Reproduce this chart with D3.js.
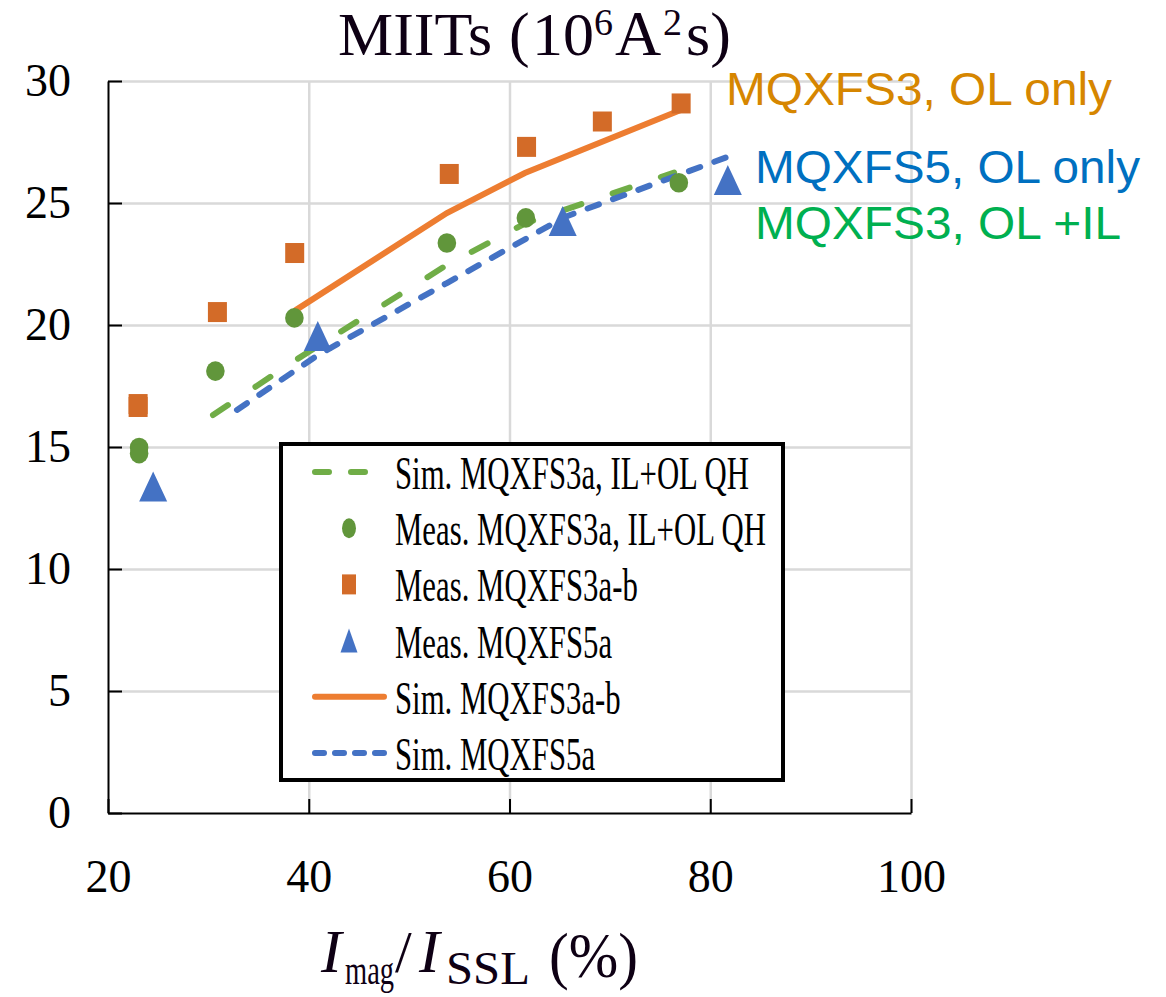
<!DOCTYPE html>
<html>
<head>
<meta charset="utf-8">
<script src="https://cdn.jsdelivr.net/npm/d3@7"></script>
<style>
  body { margin: 0; background: #fff; }
  svg { display: block; }
</style>
</head>
<body>
<div id="chart"></div>
<script>
// axis ticks
const xTicks = [20, 40, 60, 80, 100];
const yTicks = [0, 5, 10, 15, 20, 25, 30];

// Meas. MQXFS3a-b (orange squares)
const measS3abX = [23.0, 23.0, 30.9, 38.6, 54.0, 61.7, 69.25, 77.1];
const measS3abY = [16.76, 16.64, 20.53, 22.95, 26.19, 27.3, 28.34, 29.08];

// Meas. MQXFS3a, IL+OL QH (green circles)
const measS3aX = [23.1, 23.1, 30.7, 38.57, 53.76, 61.63, 76.87];
const measS3aY = [14.98, 14.73, 18.11, 20.29, 23.36, 24.39, 25.83];

// Meas. MQXFS5a (blue triangles)
const measS5aX = [24.5, 40.9, 65.3, 81.75];
const measS5aY = [13.38, 19.55, 24.26, 25.94];

// Sim. MQXFS3a-b (orange solid)
const simS3abX = [38.7, 53.76, 61.53, 77.0];
const simS3abY = [20.61, 24.59, 26.23, 28.8];

// Sim. MQXFS3a, IL+OL QH (green dashed)
const simS3aX = [30.46, 38.53, 53.76, 61.63, 76.4];
const simS3aY = [16.31, 18.52, 22.46, 24.18, 26.25];

// Sim. MQXFS5a (blue dashed)
const simS5aX = [32.85, 40.92, 53.76, 65.52, 81.6];
const simS5aY = [16.52, 18.77, 21.72, 24.43, 26.87];

const legendLabels = [
  "Sim. MQXFS3a, IL+OL QH",
  "Meas. MQXFS3a, IL+OL QH",
  "Meas. MQXFS3a-b",
  "Meas. MQXFS5a",
  "Sim. MQXFS3a-b",
  "Sim. MQXFS5a"
];

const notes = ["MQXFS3, OL only", "MQXFS5, OL only", "MQXFS3, OL +IL"];

// colours
const cSquare = "#d36b28", cCircle = "#61963b", cTri = "#4472c4";
const cOrangeLine = "#ed7d31", cGreenLine = "#70ad47", cBlueLine = "#4472c4";

const width = 1166, height = 997;
const serif = "'Liberation Serif', 'Times New Roman', serif";
const sans = "'Liberation Sans', Arial, sans-serif";
const ink = "#0e0014";

const x = d3.scaleLinear().domain([20, 100]).range([108, 911]);
const y = d3.scaleLinear().domain([0, 30]).range([813, 81]);

const svg = d3.select("#chart").append("svg")
  .attr("width", width)
  .attr("height", height);

// gridlines
svg.append("g")
  .attr("transform", "translate(0," + y(0) + ")")
  .call(d3.axisBottom(x).tickValues(xTicks.slice(1)).tickSize(-(y(0) - y(30))).tickFormat(""))
  .call(g => g.select(".domain").remove())
  .selectAll("line").attr("stroke", "#d9d9d9").attr("stroke-width", 2.5);

svg.append("g")
  .attr("transform", "translate(" + x(20) + ",0)")
  .call(d3.axisLeft(y).tickValues(yTicks.slice(1)).tickSize(-(x(100) - x(20))).tickFormat(""))
  .call(g => g.select(".domain").remove())
  .selectAll("line").attr("stroke", "#d9d9d9").attr("stroke-width", 2.5);

// lines
const line = d3.line().x(d => x(d[0])).y(d => y(d[1]));

svg.append("path")
  .datum(d3.zip(simS3aX, simS3aY))
  .attr("d", line)
  .attr("fill", "none")
  .attr("stroke", cGreenLine)
  .attr("stroke-width", 6)
  .attr("stroke-linecap", "round")
  .attr("stroke-dasharray", "18,33");

svg.append("path")
  .datum(d3.zip(simS5aX, simS5aY))
  .attr("d", line)
  .attr("fill", "none")
  .attr("stroke", cBlueLine)
  .attr("stroke-width", 6)
  .attr("stroke-linecap", "round")
  .attr("stroke-dasharray", "12,15");

svg.append("path")
  .datum(d3.zip(simS3abX, simS3abY))
  .attr("d", line)
  .attr("fill", "none")
  .attr("stroke", cOrangeLine)
  .attr("stroke-width", 6)
  .attr("stroke-linecap", "round");

// markers
svg.append("g").selectAll("rect")
  .data(d3.zip(measS3abX, measS3abY))
  .enter().append("rect")
  .attr("x", d => x(d[0]) - 9.5)
  .attr("y", d => y(d[1]) - 10)
  .attr("width", 19)
  .attr("height", 20)
  .attr("fill", cSquare);

svg.append("g").selectAll("ellipse")
  .data(d3.zip(measS3aX, measS3aY))
  .enter().append("ellipse")
  .attr("cx", d => x(d[0]))
  .attr("cy", d => y(d[1]))
  .attr("rx", 9.3)
  .attr("ry", 9.8)
  .attr("fill", cCircle);

const tri = (cx, cy, w, h) => {
  const p = d3.path();
  p.moveTo(cx, cy - h / 2);
  p.lineTo(cx + w / 2, cy + h / 2);
  p.lineTo(cx - w / 2, cy + h / 2);
  p.closePath();
  return p.toString();
};

svg.append("g").selectAll("path")
  .data(d3.zip(measS5aX, measS5aY))
  .enter().append("path")
  .attr("d", d => tri(x(d[0]), y(d[1]), 28, 30))
  .attr("fill", cTri);

// axes
svg.append("g")
  .attr("transform", "translate(" + x(20) + ",0)")
  .call(d3.axisLeft(y).tickValues(yTicks).tickSizeInner(-14).tickSizeOuter(0).tickPadding(37))
  .call(g => {
    g.select(".domain").attr("stroke", "#000").attr("stroke-width", 2);
    g.selectAll(".tick line").attr("stroke", "#000").attr("stroke-width", 2);
    g.selectAll("text").attr("font-family", serif).attr("font-size", 46).attr("fill", "#000");
  });

svg.append("g")
  .attr("transform", "translate(0," + y(0) + ")")
  .call(d3.axisBottom(x).tickValues(xTicks).tickSizeInner(-14).tickSizeOuter(0).tickPadding(46))
  .call(g => {
    g.select(".domain").attr("stroke", "#000").attr("stroke-width", 2);
    g.selectAll(".tick line").attr("stroke", "#000").attr("stroke-width", 2);
    g.selectAll("text").attr("font-family", serif).attr("font-size", 46).attr("fill", "#000");
  });

// legend
const lg = svg.append("g");
lg.append("rect")
  .attr("x", 281).attr("y", 444)
  .attr("width", 502).attr("height", 336)
  .attr("fill", "#fff")
  .attr("stroke", "#000")
  .attr("stroke-width", 4);

const rowY = i => 472 + i * 56.2;
const symX = 349;

lg.append("line").attr("x1", 315).attr("x2", 385).attr("y1", rowY(0)).attr("y2", rowY(0))
  .attr("stroke", cGreenLine).attr("stroke-width", 6).attr("stroke-linecap", "round")
  .attr("stroke-dasharray", "14,22");
lg.append("ellipse").attr("cx", symX).attr("cy", rowY(1)).attr("rx", 7).attr("ry", 10).attr("fill", cCircle);
lg.append("rect").attr("x", symX - 7).attr("y", rowY(2) - 10).attr("width", 14).attr("height", 20).attr("fill", cSquare);
lg.append("path").attr("d", tri(symX, rowY(3), 17, 24)).attr("fill", cTri);
lg.append("line").attr("x1", 315).attr("x2", 384).attr("y1", rowY(4)).attr("y2", rowY(4))
  .attr("stroke", cOrangeLine).attr("stroke-width", 6).attr("stroke-linecap", "round");
lg.append("line").attr("x1", 315).attr("x2", 385).attr("y1", rowY(5)).attr("y2", rowY(5))
  .attr("stroke", cBlueLine).attr("stroke-width", 6).attr("stroke-linecap", "round")
  .attr("stroke-dasharray", "9,11");

legendLabels.forEach((t, i) => {
  lg.append("g")
    .attr("transform", "translate(395," + (rowY(i) + 17) + ") scale(0.655,1)")
    .append("text")
    .attr("font-family", serif)
    .attr("font-size", 47)
    .attr("fill", "#000")
    .text(t);
});

// annotations
const noteCol = ["#d68600", "#0070c0", "#00b050"];
const noteX = [726, 755, 755];
const noteY = [105, 183, 239];
const noteLen = [386, 385, 366];
notes.forEach((t, i) => {
  svg.append("text")
    .attr("x", noteX[i]).attr("y", noteY[i])
    .attr("font-family", sans)
    .attr("font-size", 47)
    .attr("textLength", noteLen[i])
    .attr("lengthAdjust", "spacingAndGlyphs")
    .attr("fill", noteCol[i])
    .text(t);
});

// title, each piece its own text so superscripts sit right
const tg = svg.append("g").attr("font-family", serif).attr("fill", ink);
tg.append("text").attr("x", 338).attr("y", 55).attr("font-size", 62).text("MIITs");
tg.append("text").attr("x", 509).attr("y", 55).attr("font-size", 62).text("(");
tg.append("text").attr("x", 532).attr("y", 55).attr("font-size", 62).text("10");
tg.append("text").attr("x", 594).attr("y", 35).attr("font-size", 38).text("6");
tg.append("text").attr("x", 615).attr("y", 55).attr("font-size", 64).text("A");
tg.append("text").attr("x", 663).attr("y", 35).attr("font-size", 38).text("2");
tg.append("text").attr("x", 686).attr("y", 55).attr("font-size", 62).text("s)");

// x axis label
const xl = svg.append("g").attr("font-family", serif).attr("fill", ink);
xl.append("text").attr("x", 321).attr("y", 972).attr("font-size", 62).attr("font-style", "italic").text("I");
xl.append("text").attr("x", 345).attr("y", 984).attr("font-size", 40)
  .attr("textLength", 49).attr("lengthAdjust", "spacingAndGlyphs").text("mag");
xl.append("text").attr("x", 395).attr("y", 972).attr("font-size", 60).text("/");
xl.append("text").attr("x", 419).attr("y", 972).attr("font-size", 62).attr("font-style", "italic").text("I");
xl.append("text").attr("x", 446).attr("y", 984).attr("font-size", 46)
  .attr("textLength", 84).attr("lengthAdjust", "spacingAndGlyphs").text("SSL");
xl.append("text").attr("x", 549).attr("y", 977).attr("font-size", 64)
  .attr("textLength", 89).attr("lengthAdjust", "spacingAndGlyphs").text("(%)");
</script>
</body>
</html>
